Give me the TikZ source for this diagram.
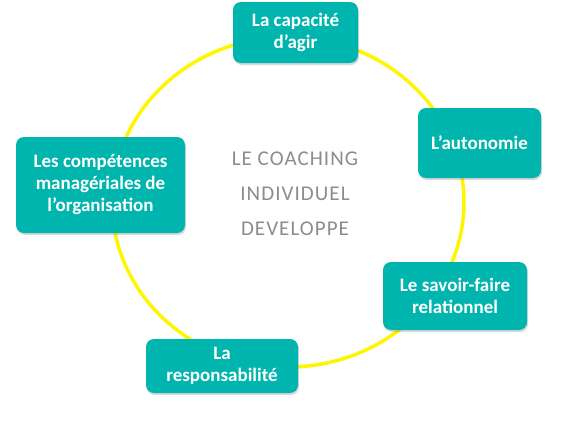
\documentclass[tikz,border=0pt]{standalone}
\usepackage{fontspec}
\setmainfont{Carlito}
\usetikzlibrary{shadows}
\definecolor{teal1}{RGB}{0,181,173}
\definecolor{ring}{RGB}{255,245,0}
\definecolor{centre}{RGB}{140,140,140}
\tikzset{
  card/.style={fill=teal1, draw=none, rounded corners=8pt, align=center,
    text=white, font=\fontsize{19}{22}\selectfont\bfseries, inner sep=0pt,
    drop shadow={shadow xshift=1pt, shadow yshift=-2pt, opacity=0.25, fill=black!60}},
}
\begin{document}
\begin{tikzpicture}[x=1pt,y=-1pt]
\useasboundingbox (0,0) rectangle (568,439);
\fill[white] (0,0) rectangle (568,439);
\draw[ring, line width=3.5pt] (288,202) ellipse [x radius=176, y radius=165];
\node[card, minimum width=125pt, minimum height=61pt] (cap) at (295.5,32.5) {La capacité\\d’agir};
\node[card, minimum width=123pt, minimum height=70pt] (aut) at (479.5,143) {L’autonomie};
\node[card, minimum width=144pt, minimum height=68pt] (sav) at (455,296) {Le savoir-faire\\relationnel};
\node[card, minimum width=152pt, minimum height=54pt] (res) at (222,366) {La\\responsabilité};
\node[card, minimum width=169pt, minimum height=96pt] (comp) at (100.5,185) {Les compétences\\managériales de\\l’organisation};
\node[align=center, text=centre, font=\fontsize{21}{35}\selectfont\addfontfeature{LetterSpace=5}] (mid) at (295,194) {LE COACHING\\INDIVIDUEL\\DEVELOPPE};
\end{tikzpicture}
\end{document}
